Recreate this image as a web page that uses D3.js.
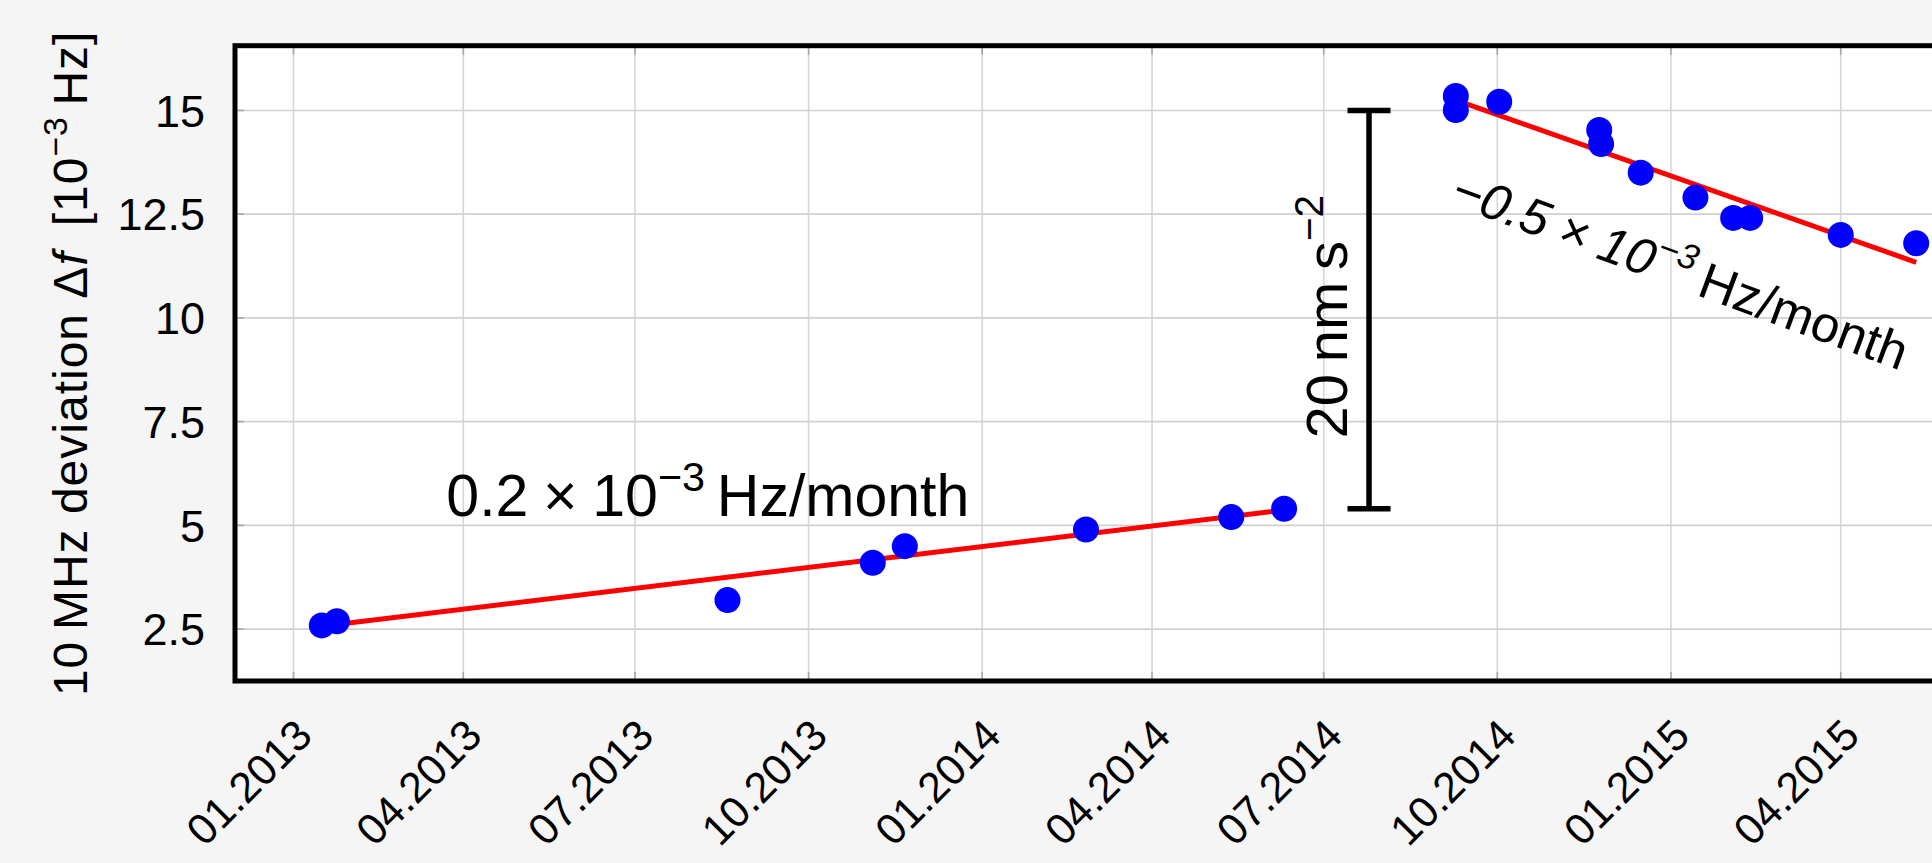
<!DOCTYPE html>
<html>
<head>
<meta charset="utf-8">
<script src="https://cdn.jsdelivr.net/npm/d3@7"></script>
<style>
  html, body { margin: 0; padding: 0; background: #f5f5f5; overflow: hidden; }
  svg { display: block; font-family: "Liberation Sans", Arial, sans-serif; }
</style>
</head>
<body>
<div id="chart"></div>
<script>
const parseDate = d3.timeParse('%Y-%m-%d');

// first series (before the jump)
const datesA = ['2013-01-16', '2013-01-24', '2013-08-19', '2013-11-04', '2013-11-21', '2014-02-25', '2014-05-13', '2014-06-10'];
const valuesA = [2.59, 2.69, 3.2, 4.1, 4.5, 4.9, 5.2, 5.4];

// second series (after the jump)
const datesB = ['2014-09-09', '2014-09-09', '2014-10-02', '2014-11-24', '2014-11-25', '2014-12-16', '2015-01-14', '2015-02-03', '2015-02-12', '2015-04-01', '2015-05-11'];
const valuesB = [15.35, 15.01, 15.21, 14.53, 14.19, 13.5, 12.9, 12.41, 12.41, 12.0, 11.8];

// linear fits, start and end
const fitDatesA = ['2013-01-16', '2014-06-10'];
const fitValuesA = [2.57, 5.37];
const fitDatesB = ['2014-09-09', '2015-05-11'];
const fitValuesB = [15.25, 11.34];

// scale bar (20 nm s^-2)
const barDate = '2014-07-25';
const barValues = [15, 5.4];

const xTicks = ['2013-01-01', '2013-04-01', '2013-07-01', '2013-10-01', '2014-01-01', '2014-04-01', '2014-07-01', '2014-10-01', '2015-01-01', '2015-04-01'];
const yTicks = [2.5, 5, 7.5, 10, 12.5, 15];
const xDomain = ['2012-12-01', '2015-06-26'];
const yDomain = [1.25, 16.56];

const width = 1932, height = 863;
const m = { left: 235, top: 45.7, right: 2003, bottom: 681 };

const svg = d3.select('#chart').append('svg')
  .attr('width', width)
  .attr('height', height);

const x = d3.scaleTime().domain(xDomain.map(parseDate)).range([m.left, m.right]);
const y = d3.scaleLinear().domain(yDomain).range([m.bottom, m.top]);

// text with superscripts / italic parts
function richText(sel, parts, size) {
  parts.forEach(p => {
    const t = sel.append('tspan').text(p.t);
    if (p.it) t.attr('font-style', 'italic');
    if (p.sup) {
      t.attr('font-size', size * 0.7).attr('dy', -size * 0.42);
    } else if (p.after) {
      t.attr('dy', size * 0.42);
    }
  });
  return sel;
}

// plot background
svg.append('rect')
  .attr('x', m.left).attr('y', m.top)
  .attr('width', m.right - m.left).attr('height', m.bottom - m.top)
  .attr('fill', '#fff');

// grid
const grid = svg.append('g');
grid.selectAll('.vgrid')
  .data(xTicks.map(parseDate))
  .enter().append('line')
  .attr('x1', d => x(d)).attr('x2', d => x(d))
  .attr('y1', m.top).attr('y2', m.bottom)
  .attr('stroke', '#d6d6d6').attr('stroke-width', 1.6);
grid.selectAll('.hgrid')
  .data(yTicks)
  .enter().append('line')
  .attr('x1', m.left).attr('x2', m.right)
  .attr('y1', d => y(d)).attr('y2', d => y(d))
  .attr('stroke', '#d0d0d0').attr('stroke-width', 1.6);

// small tick marks
grid.selectAll('.xtick')
  .data(xTicks.map(parseDate))
  .enter().append('path')
  .attr('d', d => `M${x(d)},${m.bottom}v-9M${x(d)},${m.top}v9`)
  .attr('stroke', '#a8a8a8').attr('stroke-width', 1.6);
grid.selectAll('.ytick')
  .data(yTicks)
  .enter().append('path')
  .attr('d', d => `M${m.left},${y(d)}h9`)
  .attr('stroke', '#a8a8a8').attr('stroke-width', 1.6);

// fits
const line = d3.line().x(d => x(d[0])).y(d => y(d[1]));
[[fitDatesA, fitValuesA], [fitDatesB, fitValuesB]].forEach(([ds, vs]) => {
  svg.append('path')
    .attr('d', line(ds.map((d, i) => [parseDate(d), vs[i]])))
    .attr('fill', 'none')
    .attr('stroke', '#ff0000')
    .attr('stroke-width', 5);
});

// points
const points = datesA.map((d, i) => [parseDate(d), valuesA[i]])
  .concat(datesB.map((d, i) => [parseDate(d), valuesB[i]]));
svg.append('g').selectAll('circle')
  .data(points)
  .enter().append('circle')
  .attr('cx', d => x(d[0]))
  .attr('cy', d => y(d[1]))
  .attr('r', 13)
  .attr('fill', '#0000ff');

// frame
svg.append('rect')
  .attr('x', m.left).attr('y', m.top)
  .attr('width', m.right - m.left).attr('height', m.bottom - m.top)
  .attr('fill', 'none')
  .attr('stroke', '#000').attr('stroke-width', 5);

// y tick labels
svg.append('g').selectAll('text')
  .data(yTicks)
  .enter().append('text')
  .attr('x', 205)
  .attr('y', d => y(d))
  .attr('dy', '0.36em')
  .attr('text-anchor', 'end')
  .attr('font-size', 45)
  .text(d => d3.format('')(d));

// x tick labels
const fmt = d3.timeFormat('%m.%Y');
svg.append('g').selectAll('text')
  .data(xTicks.map(parseDate))
  .enter().append('text')
  .attr('transform', d => `translate(${x(d) + 10},727) rotate(-45)`)
  .attr('dy', '0.36em')
  .attr('text-anchor', 'end')
  .attr('font-size', 43)
  .text(d => fmt(d));

// y axis title
richText(svg.append('text')
  .attr('transform', `translate(87,${(m.top + m.bottom) / 2}) rotate(-90)`)
  .attr('text-anchor', 'middle')
  .attr('font-size', 48)
  .attr('letter-spacing', 1), [
    { t: '10\u2009MHz deviation \u0394' },
    { t: 'f', it: true },
    { t: '\u2002[10' },
    { t: '\u22123', sup: true },
    { t: '\u2009Hz]', after: true }
  ], 48);

// scale bar
const bx = x(parseDate(barDate));
svg.append('path')
  .attr('d', `M${bx},${y(barValues[0])}V${y(barValues[1])}` +
    `M${bx - 21.5},${y(barValues[0])}h43M${bx - 21.5},${y(barValues[1])}h43`)
  .attr('stroke', '#000').attr('stroke-width', 5.5).attr('fill', 'none');
richText(svg.append('text')
  .attr('transform', `translate(${bx - 22},${(y(barValues[0]) + y(barValues[1])) / 2 + 7}) rotate(-90)`)
  .attr('text-anchor', 'middle')
  .attr('font-size', 58), [
    { t: '20\u2009nm\u2009s' },
    { t: '\u22122', sup: true }
  ], 58);

// slope annotations
richText(svg.append('text')
  .attr('x', x(parseDate('2013-03-23')))
  .attr('y', y(5.22))
  .attr('font-size', 59), [
    { t: '0.2\u2005\u00d7\u200510' },
    { t: '\u22123', sup: true },
    { t: '\u2009Hz/month', after: true }
  ], 59);

richText(svg.append('text')
  .attr('transform', `translate(${x(parseDate('2014-09-05'))},${y(12.76)}) rotate(20.3)`)
  .attr('font-size', 51), [
    { t: '\u22120.5\u2005\u00d7\u200510', it: true },
    { t: '\u22123', sup: true, it: true },
    { t: '\u2009Hz/month', after: true }
  ], 51);
</script>
</body>
</html>
